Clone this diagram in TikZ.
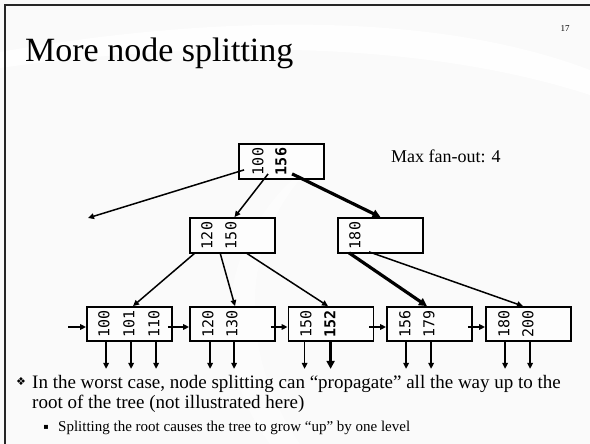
\documentclass[tikz,border=0pt]{standalone}
\usepackage{fontspec}
\setmainfont{Liberation Serif}
\newfontfamily\keyfont{DejaVu Sans Mono}
\newfontfamily\symfont{DejaVu Sans}
\usetikzlibrary{arrows.meta}

\begin{document}
\begin{tikzpicture}[x=1pt,y=-1pt,
  bnode/.style={draw, line width=1.8pt, minimum width=85pt, minimum height=35pt, inner sep=0pt, fill=white, fill opacity=0.6, text opacity=1},
  key/.style={font=\keyfont\fontsize{15}{15}\selectfont, rotate=90, inner sep=0pt},
  bkey/.style={key, font=\keyfont\bfseries\fontsize{15}{15}\selectfont},
  ptr/.style={line width=1.5pt, -{Triangle[length=6pt,width=5.5pt]}},
  bptr/.style={line width=3.2pt, -{Triangle[length=8pt,width=8pt]}},
  txt/.style={anchor=base west, inner sep=0pt}
]
\useasboundingbox (0,0) rectangle (590,444);

% slide background with soft swooshes
\fill[gray!4] (0,0) rectangle (590,444);
\fill[white, opacity=0.8] (0,52) .. controls (180,20) and (420,5) .. (590,70)
  -- (590,95) .. controls (420,40) and (200,40) .. (0,68) -- cycle;
\fill[white, opacity=0.5] (330,150) .. controls (230,230) and (240,360) .. (300,444)
  -- (270,444) .. controls (200,350) and (220,220) .. (330,150) -- cycle;
\draw[line width=2pt, black!85] (5,444) -- (5,5) -- (590,5);

% title and slide number
\node[txt, font=\fontsize{34}{34}\selectfont] (title) at (25,62) {More node splitting};
\node[font=\fontsize{9}{9}\selectfont] (pagenum) at (565,29) {17};
\node[txt, font=\fontsize{18}{18}\selectfont] (fanout) at (391,162) {Max fan-out: 4};

% internal nodes
\node[bnode] (root) at (281.5,161.5) {};
\node[key] at (258,161.5) {100};
\node[bkey] at (281,161.5) {156};

\node[bnode] (midL) at (232.5,235.5) {};
\node[key] at (207,235.5) {120};
\node[key] at (231,235.5) {150};

\node[bnode] (midR) at (380.5,235.5) {};
\node[key] at (355,235.5) {180};

% leaves
\node[bnode, minimum height=34pt] (leaf1) at (129.5,324) {};
\node[key] at (104,324) {100};
\node[key] at (129,324) {101};
\node[key] at (154,324) {110};

\node[bnode, minimum height=34pt] (leaf2) at (232.5,324) {};
\node[key] at (208,324) {120};
\node[key] at (232,324) {130};

\node[bnode, minimum height=34pt] (leaf3) at (331,324) {};
\node[key] at (306,324) {150};
\node[bkey] at (330,324) {152};

\node[bnode, minimum height=34pt] (leaf4) at (429.5,324) {};
\node[key] at (405,324) {156};
\node[key] at (429,324) {179};

\node[bnode, minimum height=34pt] (leaf5) at (528.5,324) {};
\node[key] at (504,324) {180};
\node[key] at (528,324) {200};

% tree pointers
\coordinate (lost) at (88,218);
\draw[ptr] ([xshift=6pt,yshift=10pt]root.south west) -- (lost);
\draw[ptr] ([xshift=30pt,yshift=6pt]root.south west) -- ([xshift=2pt]midL.north);
\draw[bptr] ([xshift=54pt,yshift=6pt]root.south west) -- (midR.north);

\draw[ptr] ([xshift=6pt,yshift=1pt]midL.south west) -- ([xshift=3.5pt]leaf1.north);
\draw[ptr] ([xshift=31pt,yshift=1pt]midL.south west) -- ([xshift=2.5pt]leaf2.north);
\draw[ptr] ([xshift=57pt,yshift=1pt]midL.south west) -- ([xshift=-3pt]leaf3.north);
\draw[bptr] ([xshift=12pt,yshift=1pt]midR.south west) -- ([xshift=-2.5pt]leaf4.north);
\draw[ptr] ([xshift=32pt,yshift=2pt]midR.south west) -- ([xshift=-5.5pt]leaf5.north);

% sibling links between leaves
\coordinate (entry) at (68,327);
\draw[ptr] (entry) -- ([yshift=-3pt]leaf1.west);
\draw[ptr] ([xshift=-5pt,yshift=-3pt]leaf1.east) -- ([yshift=-3pt]leaf2.west);
\draw[ptr] ([xshift=-5pt,yshift=-3pt]leaf2.east) -- ([yshift=-3pt]leaf3.west);
\draw[ptr] ([xshift=-5pt,yshift=-3pt]leaf3.east) -- ([yshift=-3pt]leaf4.west);
\draw[ptr] ([xshift=-5pt,yshift=-3pt]leaf4.east) -- ([yshift=-3pt]leaf5.west);

% record pointers below the leaves
\foreach \dx in {20,45,70} \draw[ptr] ([xshift=\dx pt]leaf1.south west) -- ++(0,27);
\foreach \dx in {21,45} \draw[ptr] ([xshift=\dx pt]leaf2.south west) -- ++(0,27);
\draw[ptr] ([xshift=17pt]leaf3.south west) -- ++(0,27);
\draw[bptr] ([xshift=43pt]leaf3.south west) -- ++(0,27);
\foreach \dx in {20,45} \draw[ptr] ([xshift=\dx pt]leaf4.south west) -- ++(0,27);
\foreach \dx in {20,45} \draw[ptr] ([xshift=\dx pt]leaf5.south west) -- ++(0,27);

% bullet text
\node[font=\symfont\fontsize{11}{11}\selectfont] (b1) at (21,382) {❖};
\node[txt, font=\fontsize{19}{19}\selectfont] (l1) at (32,388)
  {In the worst case, node splitting can “propagate” all the way up to the};
\node[txt, font=\fontsize{19}{19}\selectfont] (l2) at (32,408)
  {root of the tree (not illustrated here)};
\node[font=\symfont\fontsize{8}{8}\selectfont] (b2) at (46,427) {▪};
\node[txt, font=\fontsize{15}{15}\selectfont] (l3) at (58,431)
  {Splitting the root causes the tree to grow “up” by one level};
\end{tikzpicture}
\end{document}
